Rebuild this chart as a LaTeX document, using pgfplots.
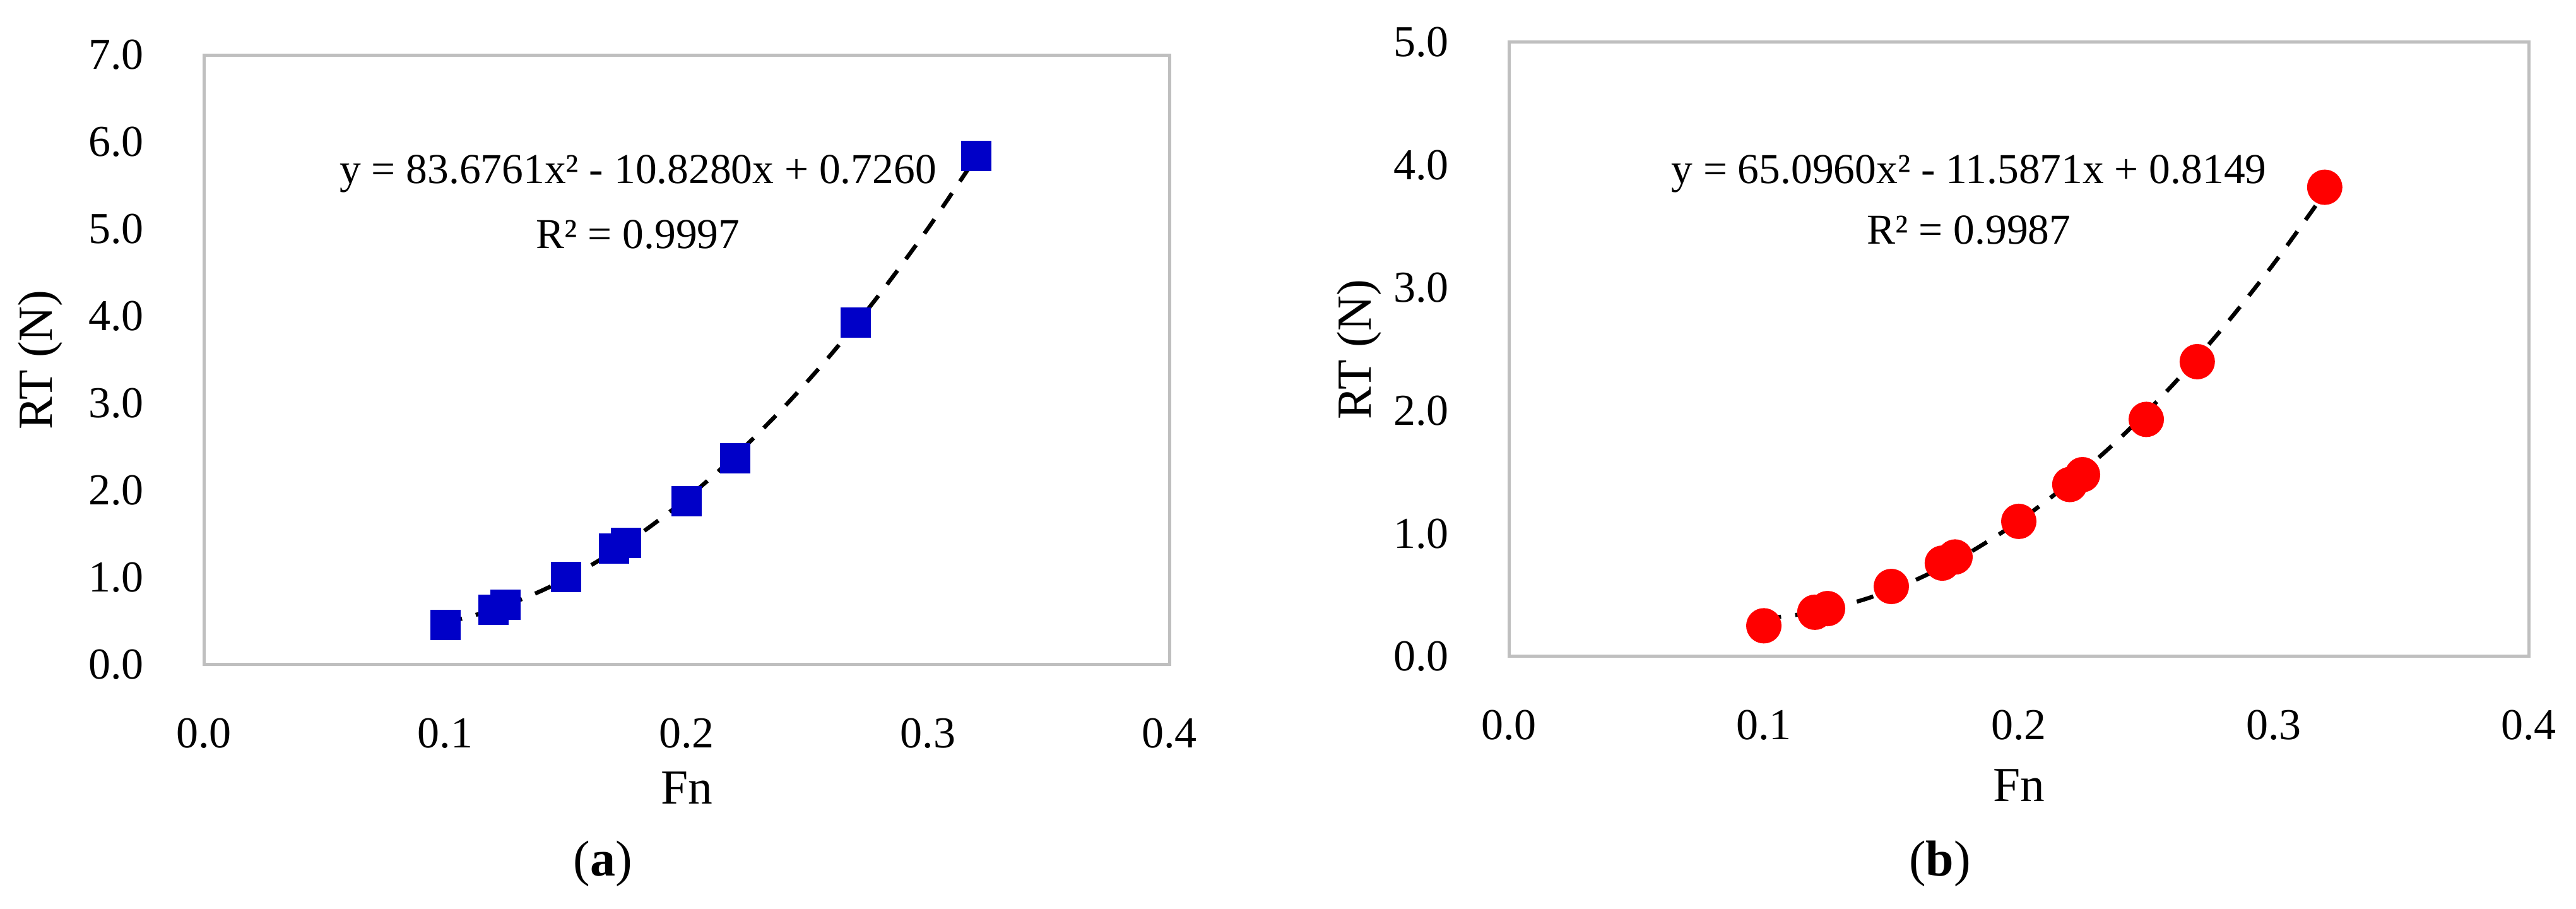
\documentclass[border=0pt]{standalone}
\usepackage{pgfplots}
\pgfplotsset{compat=1.18}
\usepackage{fontspec}
\setmainfont{Liberation Serif}
\definecolor{ptblue}{RGB}{0,0,200}
\definecolor{ptred}{RGB}{255,0,0}
\definecolor{boxgray}{RGB}{191,191,191}
\pgfplotsset{
  myaxis/.style={
    scale only axis,
    anchor=south west,
    xmin=0, xmax=0.4,
    xtick={0,0.1,0.2,0.3,0.4},
    major tick length=0pt,
    axis line style={draw=boxgray, line width=1pt},
    tick label style={font=\fontsize{14}{16}\selectfont},
    label style={font=\fontsize{15.5}{18}\selectfont},
    xticklabel style={anchor=center, yshift=-21.8pt},
    yticklabel style={anchor=east, xshift=-15.5pt},
    /pgf/number format/.cd, fixed, fixed zerofill, precision=1, assume math mode=true,
  },
}
\begin{document}
\begin{tikzpicture}
\path[use as bounding box] (0pt,0pt) rectangle (816.4pt,288pt);
% ---------------- (a)
\begin{axis}[myaxis,
  at={(64.6pt,77.4pt)}, width=306pt, height=193.2pt,
  ymin=0, ymax=7, ytick={0,1,2,3,4,5,6,7},
  xlabel={Fn}, ylabel={RT (N)},
  xlabel style={at={(axis description cs:0.5,-0.2019)}, anchor=center},
  ylabel style={at={(axis description cs:-0.1693,0.5)}, anchor=center},
]
\addplot[black, line width=1.3pt, dash pattern=on 5.5pt off 4.5pt, smooth] coordinates {
(0.10,0.4800) (0.12,0.6316) (0.14,0.8501) (0.16,1.1356) (0.18,1.4881) (0.20,1.9074)
(0.22,2.3938) (0.24,2.9470) (0.26,3.5672) (0.28,4.2544) (0.30,5.0085) (0.32,5.8295)};
\addplot[only marks, mark=square*, mark size=4.6pt, draw=ptblue, fill=ptblue] coordinates {
(0.100,0.46) (0.120,0.63) (0.125,0.69) (0.150,1.01) (0.170,1.33) (0.175,1.40)
(0.200,1.88) (0.220,2.37) (0.270,3.93) (0.320,5.84)};
\node[font=\fontsize{13.5}{16}\selectfont] at (rel axis cs:0.4497,0.8054) {y = 83.6761x² - 10.8280x + 0.7260};
\node[font=\fontsize{13.5}{16}\selectfont] at (rel axis cs:0.4497,0.705) {R² = 0.9997};
\end{axis}
% ---------------- (b)
\begin{axis}[myaxis,
  at={(478.2pt,80pt)}, width=323.2pt, height=194.6pt,
  ymin=0, ymax=5, ytick={0,1,2,3,4,5},
  xlabel={Fn}, ylabel={RT (N)},
  xlabel style={at={(axis description cs:0.5,-0.2097)}, anchor=center},
  ylabel style={at={(axis description cs:-0.1467,0.5)}, anchor=center},
]
\addplot[black, line width=1.3pt, dash pattern=on 5.5pt off 4.5pt, smooth] coordinates {
(0.10,0.3072) (0.12,0.3618) (0.14,0.4686) (0.16,0.6274) (0.18,0.8383) (0.20,1.1013)
(0.22,1.4164) (0.24,1.7835) (0.26,2.2027) (0.28,2.6740) (0.30,3.1974) (0.32,3.7729)};
\addplot[only marks, mark=*, mark size=5.4pt, draw=ptred, fill=ptred] coordinates {
(0.100,0.25) (0.120,0.36) (0.125,0.39) (0.150,0.57) (0.170,0.76) (0.175,0.81)
(0.200,1.10) (0.220,1.40) (0.225,1.48) (0.250,1.93) (0.270,2.40) (0.320,3.82)};
\node[font=\fontsize{13.5}{16}\selectfont] at (rel axis cs:0.4511,0.786) {y = 65.0960x² - 11.5871x + 0.8149};
\node[font=\fontsize{13.5}{16}\selectfont] at (rel axis cs:0.4511,0.694) {R² = 0.9987};
\end{axis}
\node[font=\fontsize{16}{18}\selectfont] at (191pt,14.4pt) {(\textbf{a})};
\node[font=\fontsize{16}{18}\selectfont] at (614.8pt,14.4pt) {(\textbf{b})};
\end{tikzpicture}
\end{document}
